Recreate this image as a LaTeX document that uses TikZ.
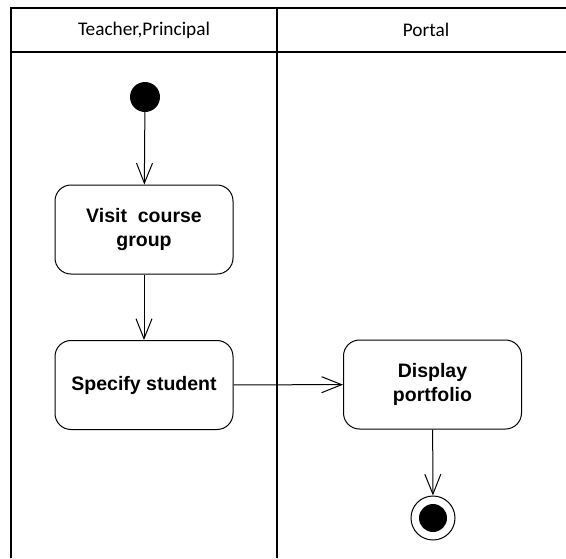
\documentclass[tikz,border=0pt]{standalone}
\usepackage{fontspec}
\setmainfont{Liberation Sans}
\newfontfamily\headfont{Carlito}
\usetikzlibrary{arrows.meta}

\begin{document}
\begin{tikzpicture}[x=1pt,y=-1pt,
  lane/.style={line width=1.3pt},
  lanehead/.style={font=\headfont\fontsize{19.3}{19.3}\selectfont},
  action/.style={draw, line width=1pt, rounded corners=16pt, minimum width=178pt,
    minimum height=89pt, align=center, font=\fontsize{19.5}{24}\selectfont\bfseries},
  flow/.style={line width=1pt, -{Straight Barb[length=20pt,width=16pt]}}]
\useasboundingbox (0,0) rectangle (566,558);
\draw[lane] (566,8) -- (11,8) -- (11,558);
\draw[lane] (11,52) -- (566,52);
\draw[lane] (277,8) -- (277,558);
\node[lanehead] (teacher) at (144,30) {Teacher,Principal};
\node[lanehead] (portal) at (426,30) {Portal};
\node[circle, fill, minimum size=30pt, inner sep=0pt] (start) at (145,97) {};
\node[action] (visit) at (144,229.5) {Visit\ \ course\\group};
\node[action] (specify) at (144,385) {Specify student};
\node[action] (display) at (432.5,384.5) {Display\\portfolio};
\node[circle, draw, line width=1pt, minimum size=44pt, inner sep=0pt] (stop) at (433,518) {};
\fill (stop) circle (14pt);
\draw[flow] (start) -- (visit);
\draw[flow] (visit) -- (specify);
\draw[flow] (specify) -- (display);
\draw[flow] (display) -- (stop);
\end{tikzpicture}
\end{document}
